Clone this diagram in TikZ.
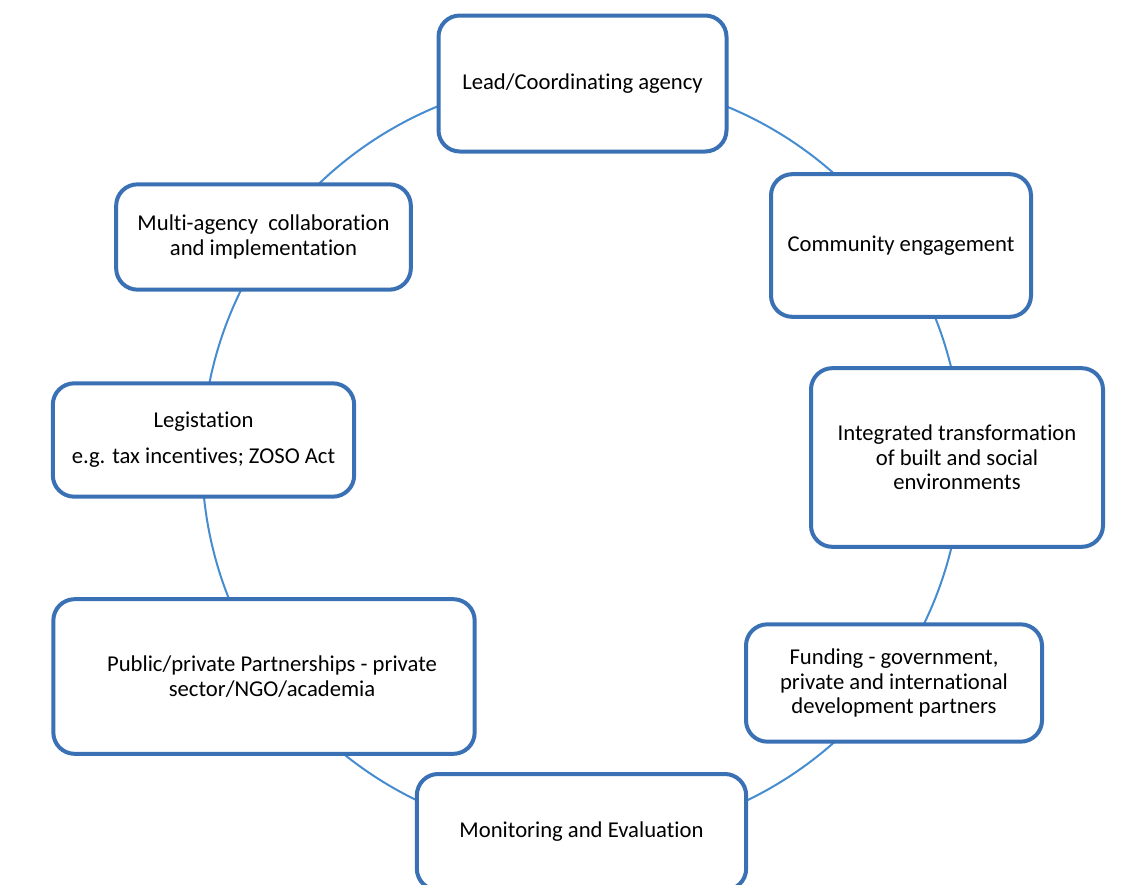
\documentclass[tikz,border=0pt]{standalone}
\usepackage{fontspec}
\setmainfont[Ligatures=NoCommon]{Carlito}
\definecolor{boxblue}{RGB}{58,112,180}
\definecolor{ringblue}{RGB}{70,140,208}
\begin{document}
\begin{tikzpicture}[x=0.75pt,y=-0.75pt,
  box/.style={draw=boxblue, line width=3pt, rounded corners=16pt, fill=white,
    align=center, inner sep=0pt, font=\fontsize{17}{18.4}\selectfont},
  ring/.style={draw=ringblue, line width=1.5pt}]
\useasboundingbox (0,0) rectangle (1136,885);
\coordinate (c) at (582,458);
\draw[ring] (c) circle[radius=285pt];
\node[box, minimum width=216pt, minimum height=102pt] (lead) at (582.5,83.5) {Lead/Coordinating agency};
\node[box, minimum width=195pt, minimum height=107pt] (comm) at (901,245.5) {Community engagement};
\node[box, minimum width=219pt, minimum height=134pt] (integ) at (957,457.5) {Integrated transformation\\of built and social\\environments};
\node[box, minimum width=222pt, minimum height=88pt] (fund) at (894,683) {Funding - government,\\private and international\\development partners};
\node[box, minimum width=247pt, minimum height=87pt] (monit) at (581.5,832) {Monitoring and Evaluation};
\node[box, minimum width=316pt, minimum height=116pt] (pub) at (264,676.5) {\hspace*{12pt}Public/private Partnerships - private\\\hspace*{12pt}sector/NGO/academia};
\node[box, minimum width=226pt, minimum height=85pt] (legis) at (203.5,440) {Legistation\\[8.6pt]e.g. tax incentives; ZOSO Act};
\node[box, minimum width=221pt, minimum height=79pt] (multi) at (263.5,237) {Multi-agency~ collaboration\\and implementation};
\end{tikzpicture}
\end{document}
